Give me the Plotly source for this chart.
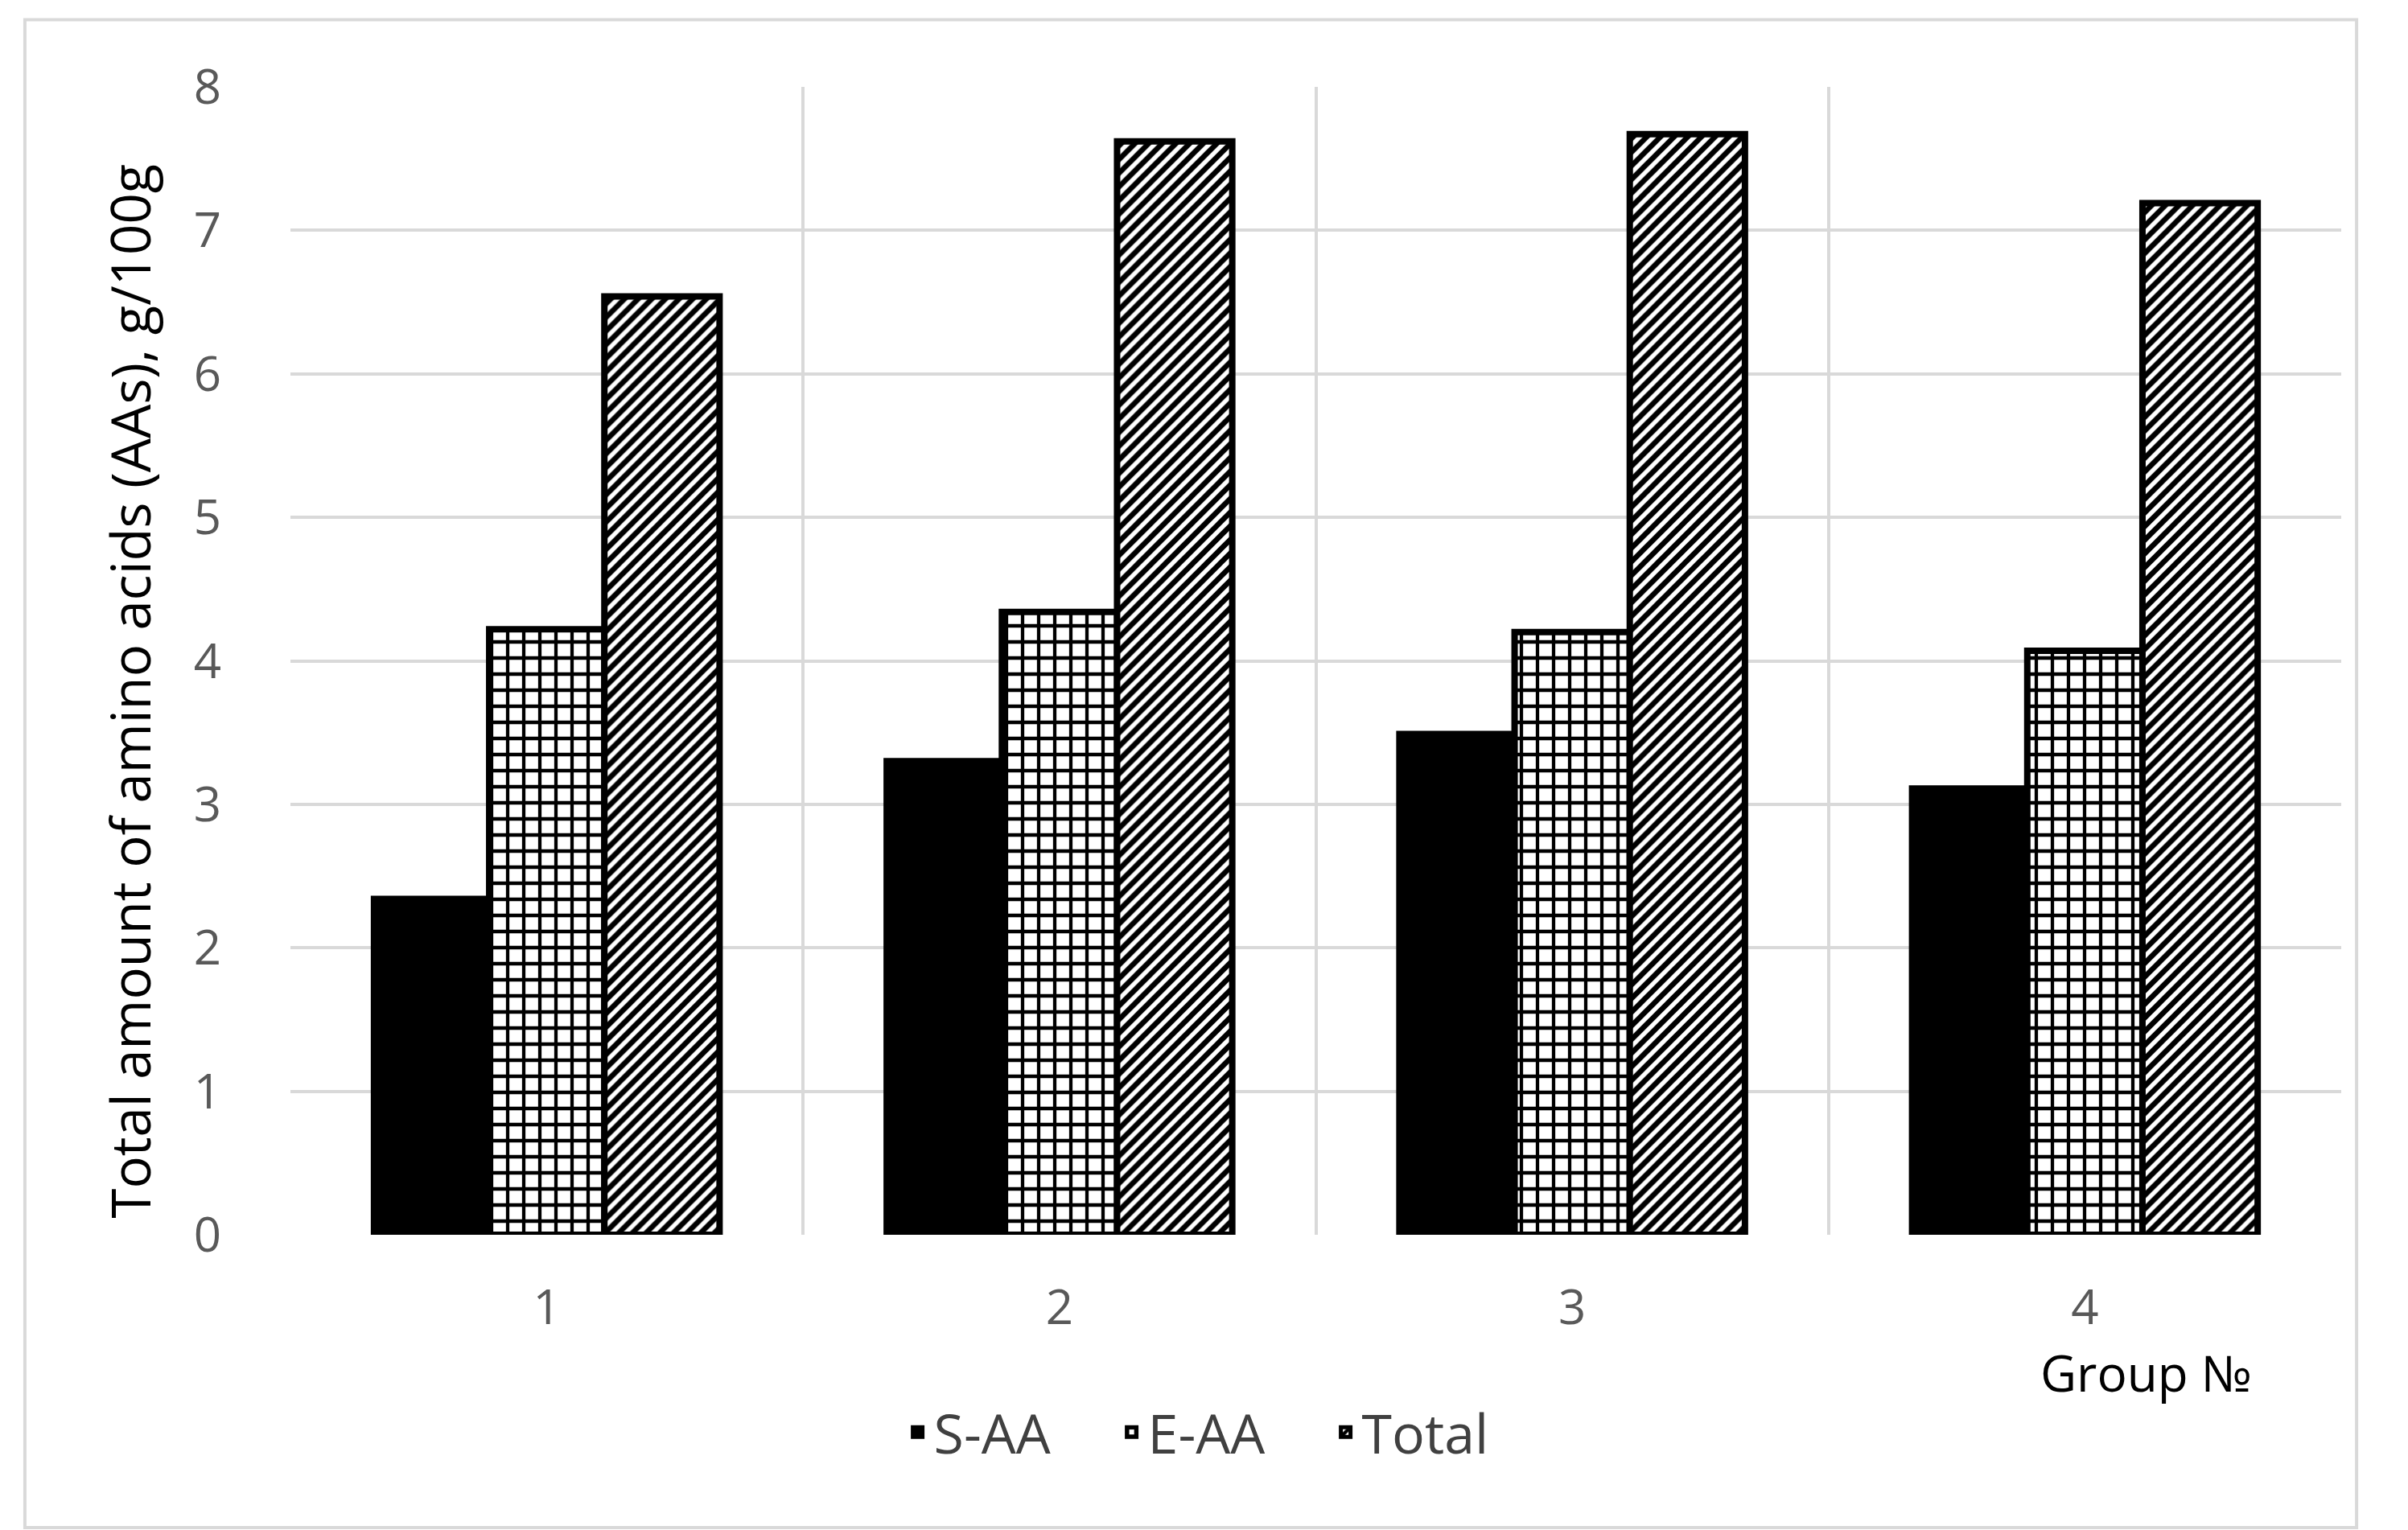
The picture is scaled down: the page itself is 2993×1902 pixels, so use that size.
import plotly.graph_objects as go

groups = [1, 2, 3, 4]
group_labels = ["1", "2", "3", "4"]
series_names = ["S-AA", "E-AA", "Total"]
s_aa = [2.34, 3.30, 3.49, 3.11]
e_aa = [4.22, 4.34, 4.20, 4.07]
total = [6.54, 7.62, 7.67, 7.19]
y_ticks = [0, 1, 2, 3, 4, 5, 6, 7, 8]

FONT = "Open Sans"
GRID = "#d9d9d9"

fig = go.Figure()
fig.add_bar(x=groups, y=s_aa, name=series_names[0],
            marker=dict(color="black", line=dict(color="black", width=8)))
fig.add_bar(x=groups, y=e_aa, name=series_names[1],
            marker=dict(color="black", line=dict(color="black", width=8),
                        pattern=dict(shape="+", fgcolor="black", bgcolor="white",
                                     size=20, solidity=0.38, fillmode="replace")))
fig.add_bar(x=groups, y=total, name=series_names[2],
            marker=dict(color="black", line=dict(color="black", width=8),
                        pattern=dict(shape="/", fgcolor="black", bgcolor="white",
                                     size=12, solidity=0.55, fillmode="replace")))

fig.update_layout(
    width=2993, height=1902,
    paper_bgcolor="white", plot_bgcolor="white",
    margin=dict(l=353, r=91, t=100, b=375),
    barmode="group", bargap=0.326, bargroupgap=0,
    font=dict(family=FONT, size=60, color="#595959"),
    showlegend=True,
    legend=dict(orientation="h", x=0.298, xanchor="left", y=-0.172, yanchor="middle",
                font=dict(size=68, color="#404040"), itemwidth=30, tracegroupgap=0,
                entrywidth=221, entrywidthmode="pixels"),
    xaxis=dict(range=[0.5, 4.5], tickmode="array", tickvals=groups, ticktext=group_labels,
               showgrid=False, zeroline=False, showline=False, ticks="",
               ticklabelstandoff=50,
               tickfont=dict(size=60, color="#595959"),
               minor=dict(tickmode="linear", tick0=0.5, dtick=1, showgrid=True,
                          gridcolor=GRID, gridwidth=4, ticks="")),
    yaxis=dict(range=[0, 8], tickmode="array", tickvals=y_ticks,
               showgrid=True, gridcolor=GRID, gridwidth=4, zeroline=False, showline=False,
               ticks="", ticklabelstandoff=85,
               tickfont=dict(size=60, color="#595959")),
)

fig.add_annotation(text="Total amount of amino acids (AAs), g/100g", textangle=-90,
                   xref="paper", yref="paper", x=-0.0785, y=0.474,
                   showarrow=False, font=dict(size=67, color="black"),
                   xanchor="center", yanchor="middle")

fig.add_annotation(text="Group \u2116", xref="x", yref="paper", x=4.12, y=-0.12,
                   showarrow=False, font=dict(size=62, color="black"),
                   xanchor="center", yanchor="middle")

fig.add_shape(type="rect", xref="paper", yref="paper",
              x0=-0.1295, x1=1.0075, y0=-0.255, y1=1.0585,
              line=dict(color=GRID, width=4), fillcolor="rgba(0,0,0,0)", layer="below")

fig.write_html("out.html")
